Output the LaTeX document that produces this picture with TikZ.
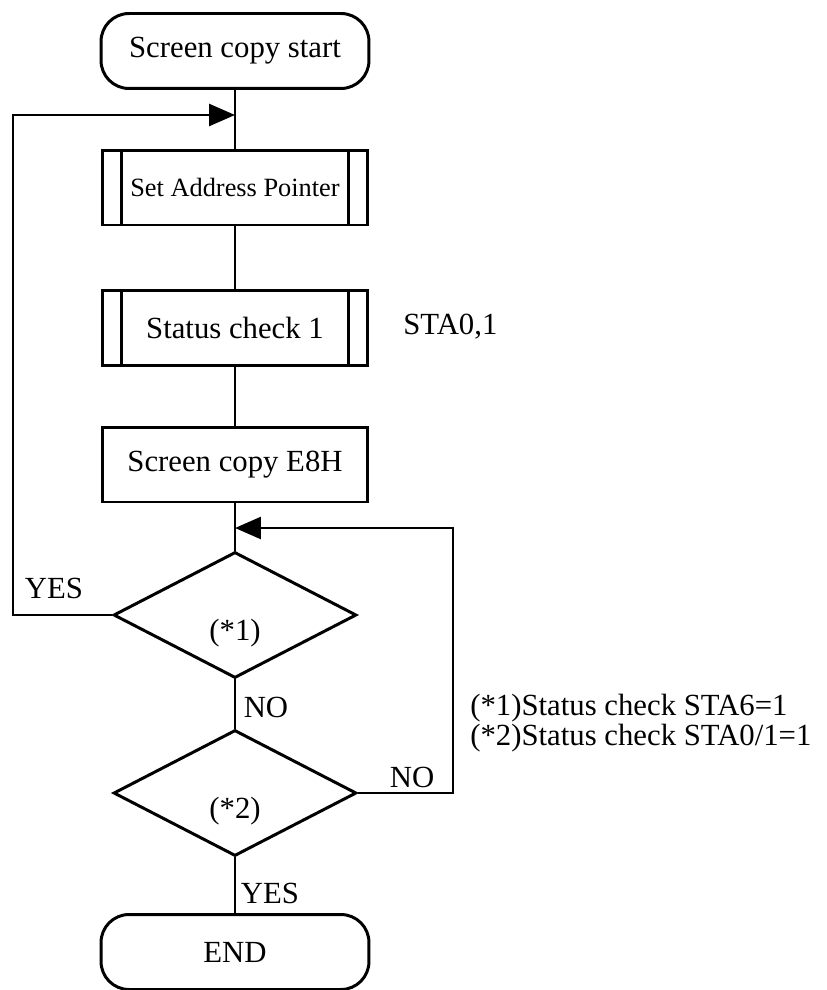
\documentclass[tikz,border=0pt]{standalone}
\usepackage{fontspec}
\setmainfont{Liberation Serif}
\usetikzlibrary{shapes.geometric,arrows.meta}
\begin{document}
\begin{tikzpicture}[x=0.02cm,y=-0.02cm,
  font=\fontsize{17.5}{20}\selectfont,
  term/.style={draw,line width=1.7pt,rounded corners=0.56cm,minimum width=5.36cm,minimum height=1.5cm,inner sep=0pt},
  procbox/.style={draw,line width=1.7pt,minimum width=5.3cm,minimum height=1.5cm,inner sep=0pt},
  subproc/.style={procbox,path picture={
    \draw[line width=1.7pt] ([xshift=0.38cm]path picture bounding box.north west) -- ([xshift=0.38cm]path picture bounding box.south west);
    \draw[line width=1.7pt] ([xshift=-0.38cm]path picture bounding box.north east) -- ([xshift=-0.38cm]path picture bounding box.south east);}},
  decide/.style={draw,diamond,line width=1.7pt,minimum width=4.86cm,minimum height=2.52cm,inner sep=0pt},
  flow/.style={line width=1.7pt},
  back/.style={line width=1.5pt,-{Triangle[length=0.52cm,width=0.44cm]}},
  lbl/.style={inner sep=0pt}]
\useasboundingbox (0,0) rectangle (826,990);

\node[term] (start) at (235,51) {Screen copy start};
\node[subproc,font=\fontsize{15}{18}\selectfont] (addr) at (235,187.5) {Set Address Pointer};
\node[subproc] (stat) at (235,328) {Status check 1};
\node[procbox] (copy) at (235,464.5) {Screen copy E8H};
\node[decide] (chk1) at (235,615) {\raisebox{-0.5cm}[0pt][0pt]{(*1)}};
\node[decide] (chk2) at (235,793) {\raisebox{-0.5cm}[0pt][0pt]{(*2)}};
\node[term] (fin) at (235,952) {END};

\coordinate (lx) at (13,0);
\coordinate (rx) at (453,0);
\coordinate (j1) at (235,115);
\coordinate (j2) at (235,528);

\draw[flow] (start) -- (addr);
\draw[flow] (addr) -- (stat);
\draw[flow] (stat) -- (copy);
\draw[flow] (copy) -- (chk1);
\draw[flow] (chk1) -- (chk2);
\draw[flow] (chk2) -- (fin);
\draw[back] (chk1.west) -- (chk1.west -| lx) |- (j1);
\draw[back] (chk2.east) -- (chk2.east -| rx) |- (j2);

\node[lbl] (yes1) at (54,588) {YES};
\node[lbl] (no1) at (266,707) {NO};
\node[lbl] (no2) at (412,777) {NO};
\node[lbl] (yes2) at (270,893) {YES};
\node[lbl,anchor=west] (sta) at (403,327) {STA0,1};
\node[lbl,anchor=west] (note1) at (470,708) {(*1)Status check STA6=1};
\node[lbl,anchor=west] (note2) at (470,738) {(*2)Status check STA0/1=1};
\end{tikzpicture}
\end{document}
